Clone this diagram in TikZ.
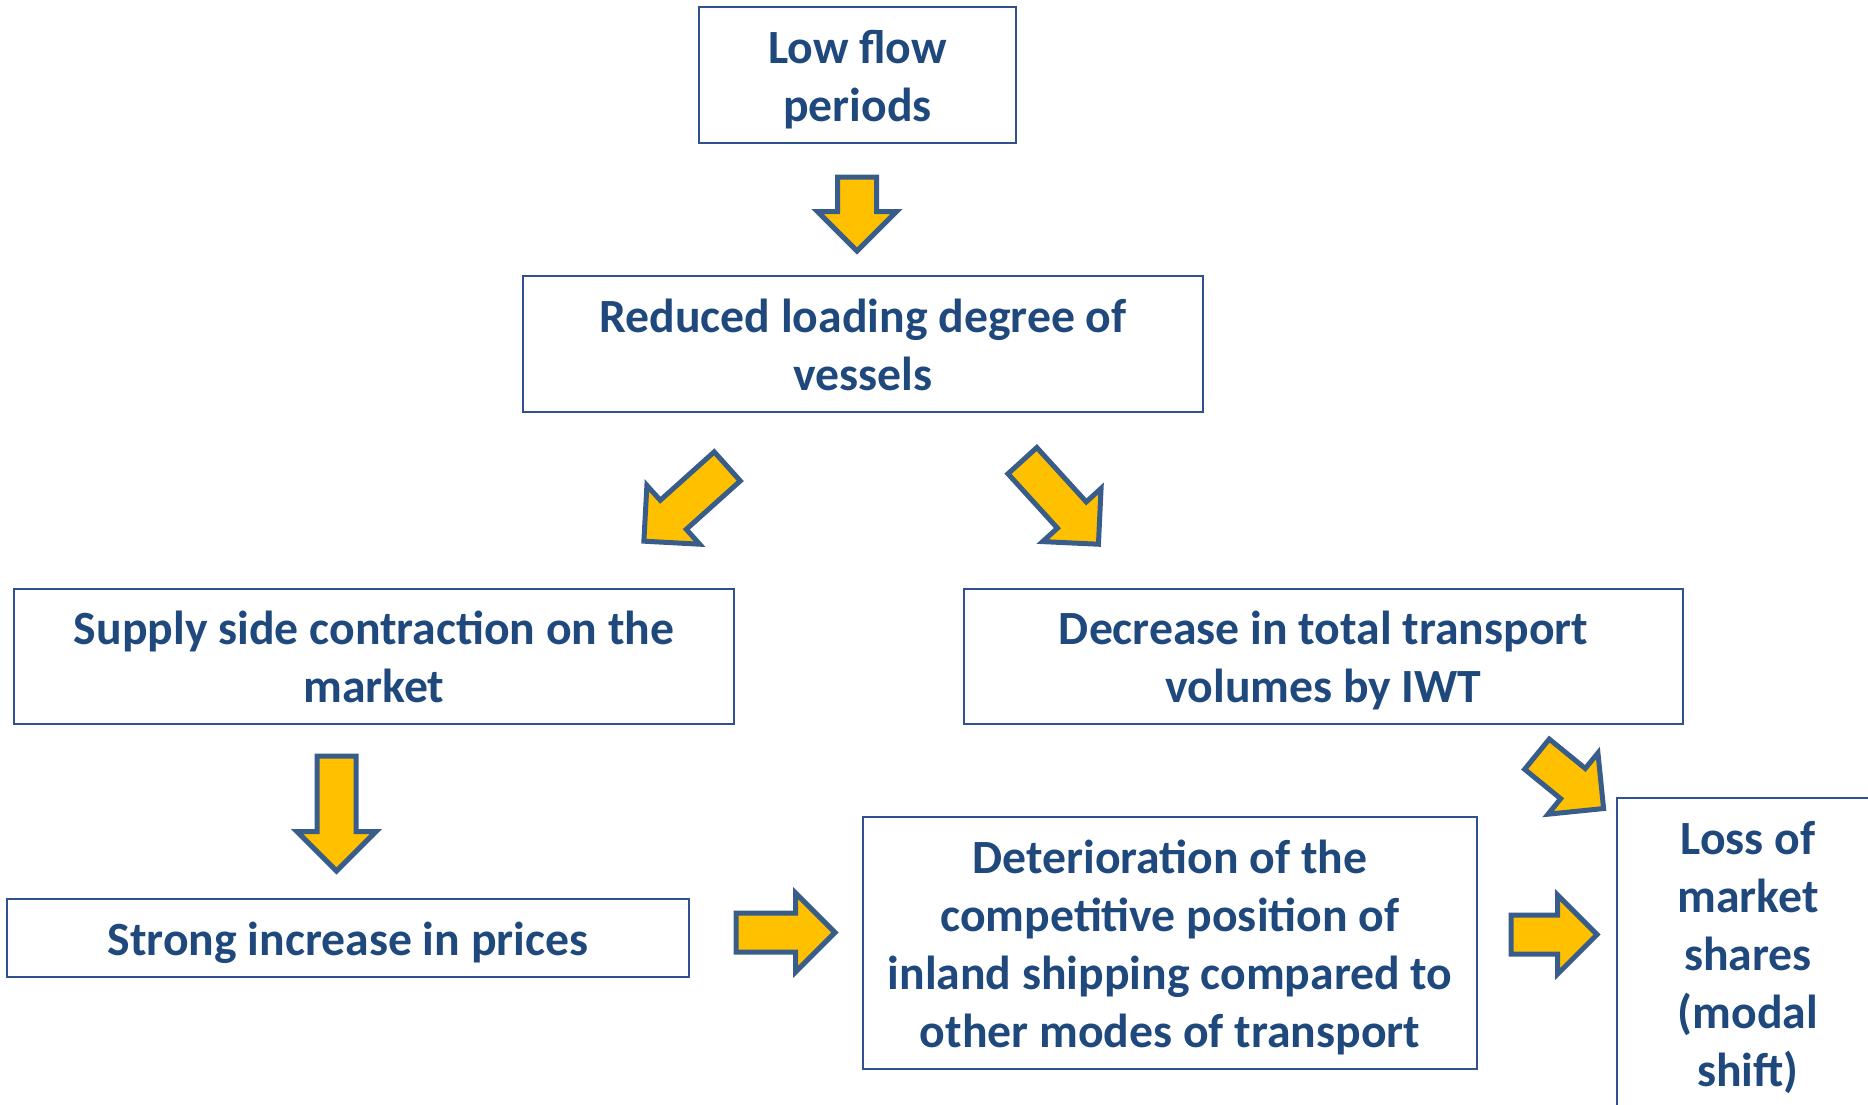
\documentclass[tikz,border=0pt]{standalone}
\usepackage{fontspec}
\setmainfont{Carlito}
\usetikzlibrary{shapes.arrows}
\definecolor{lfblue}{RGB}{31,73,125}
\definecolor{lfline}{RGB}{47,82,143}
\definecolor{lfgold}{RGB}{255,192,0}
\definecolor{lfedge}{RGB}{56,93,138}
\tikzset{
  box/.style={draw=lfline, line width=1.8pt, inner sep=0pt, align=flush center,
    text width=#1, minimum width=#1,
    text=lfblue, font=\fontsize{47.7}{58}\selectfont\bfseries,
    execute at begin node={\rule{0pt}{0.97em}},
    execute at end node={\rule[-0.25em]{0pt}{0pt}}},
  blkarrow/.style={single arrow, draw=lfedge, fill=lfgold, line width=5pt,
    line join=miter, inner xsep=0pt, inner ysep=17pt,
    single arrow head extend=20pt, single arrow tip angle=90,
    minimum height=#1, anchor=tail},
}

\begin{document}
\begin{tikzpicture}[x=1pt, y=-1pt]
  \useasboundingbox (0,0) rectangle (1868,1104);

  % --- boxes of the chain ---
  \node[box=317pt, minimum height=136pt] (low) at (857.5,75)
    {Low flow\\periods};
  \node[box=680pt, minimum height=136pt] (red) at (863,344)
    {Reduced loading degree of\\vessels};
  \node[box=720pt, minimum height=135pt] (sup) at (374,656.5)
    {Supply side contraction on the\\market};
  \node[box=719pt, minimum height=135pt] (dec) at (1323.5,656.5)
    {Decrease in total transport\\volumes by IWT};
  \node[box=682pt, minimum height=78pt] (pri) at (348,938)
    {Strong increase in prices};
  \node[box=614pt, minimum height=252pt] (det) at (1170,943)
    {Deterioration of the\\competitive position of\\inland shipping compared to\\other modes of transport};
  \node[box=262pt, minimum height=310pt] (los) at (1748,953)
    {Loss of\\market\\shares\\(modal\\shift)};

  % --- block arrows (tail placed, rotated) ---
  \node[blkarrow=74pt, rotate=-90] (low-red) at (857,174.5) {};
  \node[blkarrow=112pt, rotate=221.9] (red-sup) at (729.1,464.7) {};
  \node[blkarrow=113pt, rotate=-47.7] (red-dec) at (1020.7,458.8) {};
  \node[blkarrow=115pt, rotate=-90] (sup-pri) at (336.5,753.5) {};
  \node[blkarrow=99pt] (pri-det) at (733.5,932.5) {};
  \node[blkarrow=86pt, rotate=-39.2] (dec-los) at (1535,752.6) {};
  \node[blkarrow=86pt] (det-los) at (1508.5,934.5) {};

\end{tikzpicture}
\end{document}
